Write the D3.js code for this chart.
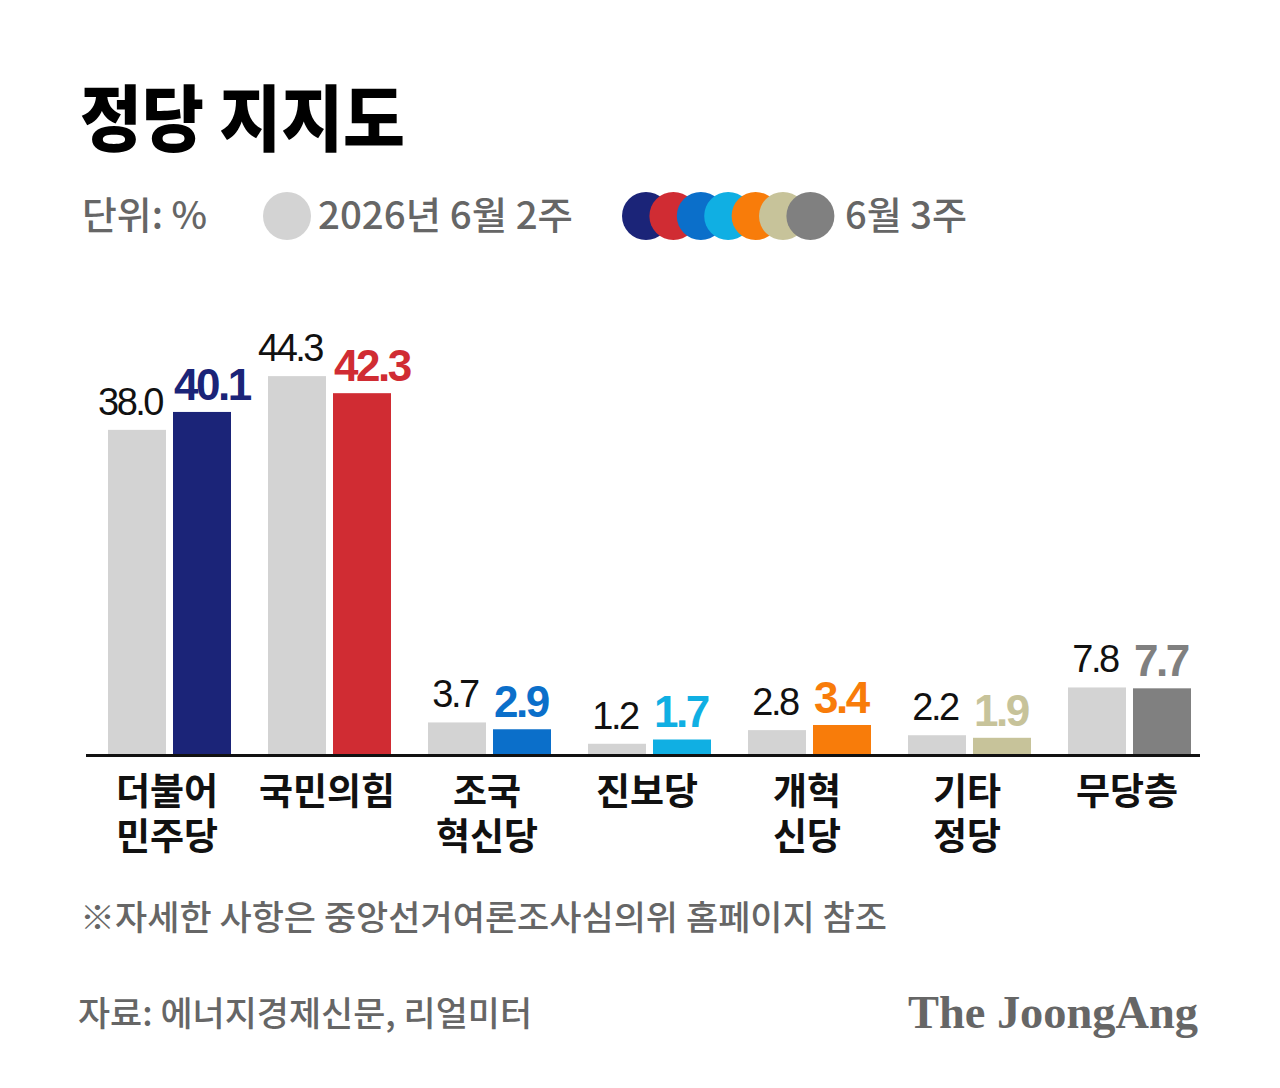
<!DOCTYPE html>
<html>
<head>
<meta charset="utf-8">
<script src="https://cdn.jsdelivr.net/npm/d3@7"></script>
<style>
  body { margin: 0; background: #fff; }
  svg { display: block; }
</style>
</head>
<body>
<div id="container"></div>
<script>
/* DATA */
const parties = ["더불어 민주당", "국민의힘", "조국 혁신당", "진보당", "개혁 신당", "기타 정당", "무당층"]
const week2 = [38.0, 44.3, 3.7, 1.2, 2.8, 2.2, 7.8]
const week3 = [40.1, 42.3, 2.9, 1.7, 3.4, 1.9, 7.7]
const colors = ["#1b2478", "#d02c33", "#0b6fca", "#10afe3", "#f87c0a", "#c7c39a", "#808080"]
const seriesNames = ["2026년 6월 2주", "6월 3주"]

/* CONSTANTS */
const width = 1280,
    height = 1088,
    grey = "#d3d3d3",
    textGrey = "#666"

const svg = d3.select("#container")
    .append("svg")
    .attr("width", width)
    .attr("height", height)

const kr = "'Noto Sans CJK KR', sans-serif"
const num = "'Liberation Sans', Arial, sans-serif"

// TITLE
svg.append("text")
    .attr("x", 80)
    .attr("y", 145)
    .style("font-family", kr)
    .style("font-weight", 900)
    .style("font-size", "72px")
    .attr("textLength", 325)
    .attr("lengthAdjust", "spacingAndGlyphs")
    .text("정당 지지도")

// LEGEND
const legendY = 216
svg.append("text")
    .attr("x", 82).attr("y", legendY + 13)
    .style("font-family", kr).style("font-size", "38px").style("font-weight", 500)
    .attr("fill", textGrey)
    .attr("textLength", 125).attr("lengthAdjust", "spacingAndGlyphs")
    .text("단위: %")

svg.append("circle")
    .attr("cx", 287).attr("cy", legendY).attr("r", 24)
    .attr("fill", grey)
svg.append("text")
    .attr("x", 318).attr("y", legendY + 13)
    .style("font-family", kr).style("font-size", "38px").style("font-weight", 500)
    .attr("fill", textGrey)
    .attr("textLength", 255).attr("lengthAdjust", "spacingAndGlyphs")
    .text(seriesNames[0])

svg.append("g")
    .selectAll("circle")
    .data(colors)
    .join("circle")
    .attr("cx", (d, i) => 646 + i * 27.4)
    .attr("cy", legendY)
    .attr("r", 24)
    .attr("fill", d => d)
svg.append("text")
    .attr("x", 845).attr("y", legendY + 13)
    .style("font-family", kr).style("font-size", "38px").style("font-weight", 500)
    .attr("fill", textGrey)
    .attr("textLength", 122).attr("lengthAdjust", "spacingAndGlyphs")
    .text(seriesNames[1])

//SCALE
const xScale = d3.scaleBand()
    .domain(parties)
    .range([90, 1210])
    .paddingInner(0)

const yScale = d3.scaleLinear()
    .domain([0, 50])
    .range([754, 754 - 426.5])

const barW = 58, gap = 6

const groups = svg.append("g")
    .selectAll("g")
    .data(parties.map((p, i) => ({ p, i, a: week2[i], b: week3[i], c: colors[i] })))
    .join("g")
    .attr("transform", d => "translate(" + (xScale(d.p) + xScale.bandwidth() / 2) + ",0)")

// BARS
groups.append("rect")
    .attr("x", -barW - gap / 2 - 1)
    .attr("y", d => yScale(d.a))
    .attr("width", barW)
    .attr("height", d => yScale(0) - yScale(d.a))
    .attr("fill", grey)

groups.append("rect")
    .attr("x", gap / 2)
    .attr("y", d => yScale(d.b))
    .attr("width", barW)
    .attr("height", d => yScale(0) - yScale(d.b))
    .attr("fill", d => d.c)

// VALUE LABELS
groups.append("text")
    .attr("x", d => -barW / 2 - gap / 2 - (d.a >= 10 ? 8 : 3))
    .attr("y", d => yScale(d.a) - 15)
    .attr("text-anchor", "middle")
    .style("font-family", num)
    .style("font-size", "38px")
    .style("letter-spacing", "-2.5px")
    .attr("fill", "#111")
    .text(d => d.a.toFixed(1))

groups.append("text")
    .attr("x", gap / 2 + 1)
    .attr("y", d => yScale(d.b) - 12)
    .attr("text-anchor", "start")
    .style("font-family", num)
    .style("font-weight", 700)
    .style("font-size", "44px")
    .style("letter-spacing", "-2.5px")
    .attr("fill", d => d.c)
    .text(d => d.b.toFixed(1))

// AXIS LINE
svg.append("line")
    .attr("x1", 86).attr("x2", 1200)
    .attr("y1", yScale(0) + 1.5).attr("y2", yScale(0) + 1.5)
    .attr("stroke", "#111")
    .attr("stroke-width", 3)

// CATEGORY LABELS
groups.append("text")
    .attr("text-anchor", "middle")
    .style("font-family", kr)
    .style("font-weight", 700)
    .style("font-size", "37px")
    .attr("fill", "#111")
    .selectAll("tspan")
    .data(d => d.p.split(" "))
    .join("tspan")
    .attr("x", -3)
    .attr("y", (d, i) => 805 + i * 45)
    .text(d => d)

// FOOTNOTES
svg.append("text")
    .attr("x", 80).attr("y", 930)
    .style("font-family", kr).style("font-size", "34px").style("font-weight", 500)
    .attr("fill", textGrey)
    .attr("textLength", 807).attr("lengthAdjust", "spacingAndGlyphs")
    .text("※자세한 사항은 중앙선거여론조사심의위 홈페이지 참조")

svg.append("text")
    .attr("x", 78).attr("y", 1026)
    .style("font-family", kr).style("font-size", "34px").style("font-weight", 500)
    .attr("fill", textGrey)
    .attr("textLength", 454).attr("lengthAdjust", "spacingAndGlyphs")
    .text("자료: 에너지경제신문, 리얼미터")

svg.append("text")
    .attr("x", 1198).attr("y", 1028)
    .attr("text-anchor", "end")
    .style("font-family", "'Liberation Serif', 'DejaVu Serif', serif")
    .style("font-weight", 700)
    .style("font-size", "46px")
    .attr("fill", textGrey)
    .attr("textLength", 290).attr("lengthAdjust", "spacingAndGlyphs")
    .text("The JoongAng")
</script>
</body>
</html>
